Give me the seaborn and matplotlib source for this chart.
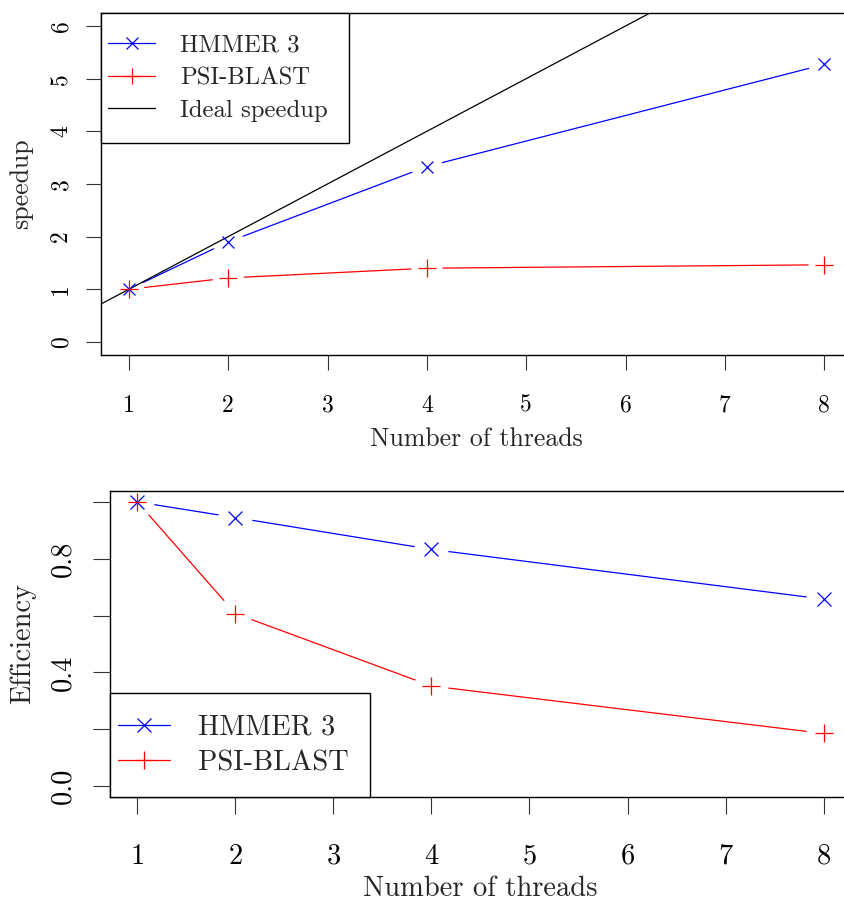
import numpy as np
import pandas as pd
import seaborn as sns
import matplotlib.pyplot as plt
from matplotlib.lines import Line2D
from matplotlib.legend_handler import HandlerLine2D

# values
threads = [1, 2, 4, 8]
series_names = ['HMMER 3', 'PSI-BLAST']
hmmer_speedup = [1.0, 1.90, 3.33, 5.27]
psiblast_speedup = [1.0, 1.215, 1.40, 1.465]
hmmer_eff = [1.0, 0.945, 0.833, 0.658]
psiblast_eff = [1.0, 0.607, 0.352, 0.185]

x_ticks = [1, 2, 3, 4, 5, 6, 7, 8]
speedup_ticks = [0, 1, 2, 3, 4, 5, 6]
eff_ticks = [0.0, 0.2, 0.4, 0.6, 0.8, 1.0]
eff_tick_labels = ['0.0', '', '0.4', '', '0.8', '']

colors = {'HMMER 3': '#0000ff', 'PSI-BLAST': '#ff0000'}

sns.set_theme(style='ticks')
plt.rcParams['font.family'] = ['cmr10', 'DejaVu Serif']
plt.rcParams['mathtext.fontset'] = 'cm'
plt.rcParams['axes.formatter.use_mathtext'] = True


def gap_segments(ax, xs, ys, gap):
    # R type="b": line pieces stop short of each point
    pts = ax.transData.transform(np.column_stack([xs, ys]))
    inv = ax.transData.inverted()
    rows = []
    for i in range(len(pts) - 1):
        d = pts[i + 1] - pts[i]
        n = np.hypot(*d)
        if n <= 2 * gap:
            continue
        u = d / n
        a = inv.transform([pts[i] + u * gap, pts[i + 1] - u * gap])
        rows.append((a[0][0], a[0][1], i))
        rows.append((a[1][0], a[1][1], i))
    return pd.DataFrame(rows, columns=['x', 'y', 'seg'])


def draw_panel(ax, ys_list, gap, sizes, lw):
    for name, ys in zip(series_names, ys_list):
        seg = gap_segments(ax, threads, ys, gap)
        sns.lineplot(data=seg, x='x', y='y', units='seg', estimator=None,
                     sort=False, color=colors[name], lw=lw, ax=ax, legend=False)
    sns.scatterplot(x=threads, y=ys_list[0], marker='x', s=sizes[0],
                    color=colors['HMMER 3'], linewidth=lw, ax=ax, zorder=3)
    sns.scatterplot(x=threads, y=ys_list[1], marker='+', s=sizes[1],
                    color=colors['PSI-BLAST'], linewidth=lw, ax=ax, zorder=3)


def style_axes(ax, fs, ticklen, xpad, ypad):
    for s in ax.spines.values():
        s.set_visible(True)
        s.set_color('black')
        s.set_linewidth(1.0)
    ax.tick_params(direction='out', length=ticklen, width=0.8, color='#333333',
                   labelsize=fs, labelcolor='black')
    ax.tick_params(axis='x', pad=xpad)
    ax.tick_params(axis='y', pad=ypad, labelrotation=90)
    for lab in ax.get_yticklabels():
        lab.set_va('center')
    ax.grid(False)


fig = plt.figure(figsize=(8.44, 9.02), dpi=100)
ax1 = fig.add_axes([0.1197, 0.6069, 0.8898, 0.3783])
ax2 = fig.add_axes([0.1303, 0.1160, 0.8780, 0.3401])

# top panel: speedup
fs1 = 17
ax1.set_xlim(0.72, 8.28)
ax1.set_ylim(-0.24, 6.24)
draw_panel(ax1, [hmmer_speedup, psiblast_speedup], 16, [74, 150], 0.9)
ax1.axline((1, 1), slope=1, color='black', lw=0.9)
ax1.set_xticks(x_ticks)
ax1.set_xticklabels([str(t) for t in x_ticks])
ax1.set_yticks(speedup_ticks)
ax1.set_yticklabels([str(t) for t in speedup_ticks])
style_axes(ax1, fs1, 10.8, 18, 10)
ax1.set_xlabel('Number of threads', fontsize=18.6)
ax1.set_ylabel('speedup', fontsize=18.6)
ax1.xaxis.set_label_coords(0.5, -0.212)
ax1.yaxis.set_label_coords(-0.09, 0.5)

h1 = [Line2D([], [], color=colors['HMMER 3'], marker='x', ms=8.6, lw=0.9, mew=0.9),
      Line2D([], [], color=colors['PSI-BLAST'], marker='+', ms=12.2, lw=0.9, mew=0.9),
      Line2D([], [], color='black', lw=0.9)]
leg1 = ax1.legend(h1, series_names + ['Ideal speedup'], loc='upper left',
                  borderaxespad=0, fontsize=17.8, fancybox=False, framealpha=1,
                  edgecolor='black', borderpad=0.85, handlelength=1.34,
                  handletextpad=1.01, labelspacing=0.42, numpoints=1,
                  handler_map={Line2D: HandlerLine2D(xpad=-0.57)})
leg1.get_frame().set_linewidth(1.0)

# bottom panel: efficiency
fs2 = 20.5
ax2.set_xlim(0.72, 8.28)
ax2.set_ylim(-0.04, 1.04)
draw_panel(ax2, [hmmer_eff, psiblast_eff], 17.5, [100, 174], 0.9)
ax2.set_xticks(x_ticks)
ax2.set_xticklabels([str(t) for t in x_ticks])
ax2.set_yticks(eff_ticks)
ax2.set_yticklabels(eff_tick_labels)
style_axes(ax2, fs2, 12.3, 21, 12)
ax2.set_xlabel('Number of threads', fontsize=fs2)
ax2.set_ylabel('Efficiency', fontsize=fs2)
ax2.xaxis.set_label_coords(0.5, -0.255)
ax2.yaxis.set_label_coords(-0.1, 0.5)

h2 = [Line2D([], [], color=colors['HMMER 3'], marker='x', ms=10, lw=0.9, mew=0.9),
      Line2D([], [], color=colors['PSI-BLAST'], marker='+', ms=13.2, lw=0.9, mew=0.9)]
leg2 = ax2.legend(h2, series_names, loc='lower left',
                  borderaxespad=0, fontsize=fs2, fancybox=False, framealpha=1,
                  edgecolor='black', borderpad=0.74, handlelength=1.37,
                  handletextpad=0.98, labelspacing=0.33, numpoints=1,
                  handler_map={Line2D: HandlerLine2D(xpad=-0.46)})
leg2.get_frame().set_linewidth(1.0)

fig.savefig('out.png', dpi=100)
